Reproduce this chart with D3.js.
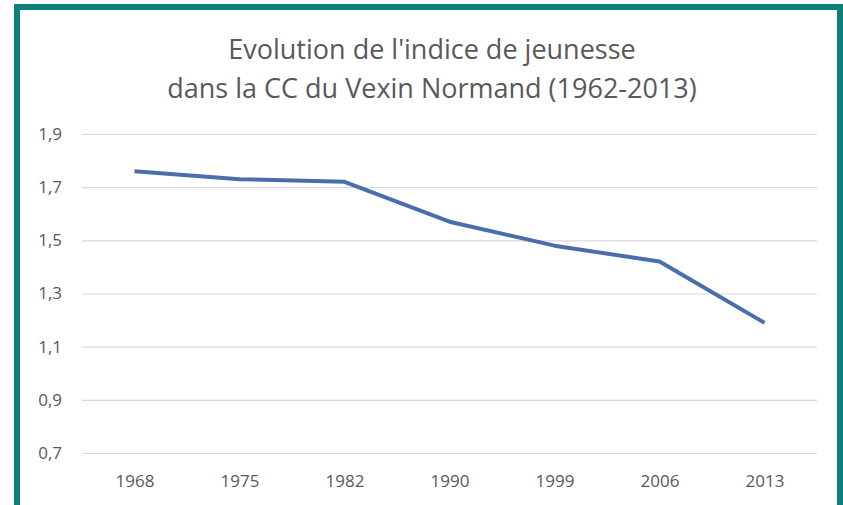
<!DOCTYPE html>
<html>
<head>
<meta charset="utf-8">
<script src="https://cdn.jsdelivr.net/npm/d3@7"></script>
<style>
  body { margin: 0; background: #fff; }
  text { font-family: "Open Sans", "DejaVu Sans", sans-serif; }
</style>
</head>
<body>
<div id="canvas"></div>
<script>
const years = ["1968", "1975", "1982", "1990", "1999", "2006", "2013"]
const indice = [1.76, 1.73, 1.72, 1.57, 1.48, 1.42, 1.19]
const yTicks = [0.7, 0.9, 1.1, 1.3, 1.5, 1.7, 1.9]
const titleLines = ["Evolution de l'indice de jeunesse", "dans la CC du Vexin Normand (1962-2013)"]

const W = 843, H = 505
const margin = {top: 134, right: 26, bottom: 52, left: 82}

const svg = d3.select("#canvas")
    .append("svg")
        .attr("width", W)
        .attr("height", H)

// teal frame
svg.append("rect")
    .attr("x", 17).attr("y", 7)
    .attr("width", 823).attr("height", 510)
    .attr("fill", "#fff")
    .attr("stroke", "#0b7f7a")
    .attr("stroke-width", 6)

svg.selectAll(".title")
    .data(titleLines)
    .join("text")
        .attr("class", "title")
        .attr("x", 432)
        .attr("y", (d, i) => 59 + i * 39)
        .attr("text-anchor", "middle")
        .attr("font-size", 27)
        .attr("fill", "#595959")
        .text(d => d)

const xScale = d3.scalePoint()
    .domain(years)
    .range([margin.left, W - margin.right])
    .padding(0.5)

const yScale = d3.scaleLinear()
    .domain([0.7, 1.9])
    .range([453, margin.top])

const fmt = d => d3.format(".1f")(d).replace(".", ",")

// gridlines + y labels
const yAxis = svg.append("g")
    .attr("transform", "translate(" + margin.left + ",0)")
    .call(d3.axisLeft(yScale).tickValues(yTicks).tickFormat(fmt)
        .tickSize(-(W - margin.right - margin.left)).tickPadding(20))
yAxis.select(".domain").remove()
yAxis.selectAll("line").attr("stroke", "#d9d9d9").attr("stroke-width", 1.2)
yAxis.selectAll("text").attr("fill", "#595959").attr("font-size", 17)

const xAxis = svg.append("g")
    .attr("transform", "translate(0,453)")
    .call(d3.axisBottom(xScale).tickSize(0).tickPadding(22))
xAxis.select(".domain").remove()
xAxis.selectAll("text").attr("fill", "#595959").attr("font-size", 17)

const line = d3.line()
    .x((d, i) => xScale(years[i]))
    .y(d => yScale(d))

svg.append("path")
    .datum(indice)
    .attr("d", line)
    .attr("fill", "none")
    .attr("stroke", "#4a6eab")
    .attr("stroke-width", 4)
    .attr("stroke-linejoin", "round")
</script>
</body>
</html>
